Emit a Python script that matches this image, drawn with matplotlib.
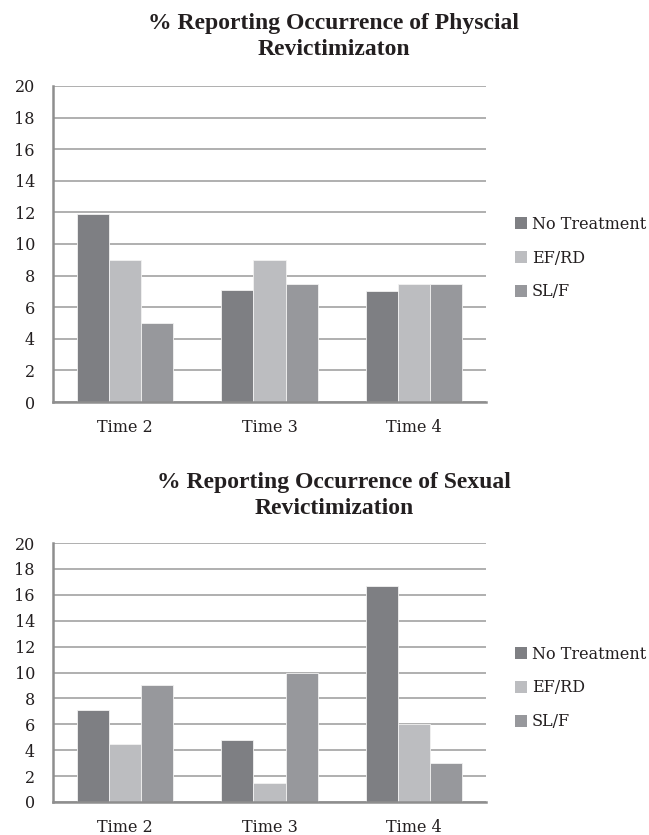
import matplotlib
matplotlib.use("Agg")
import matplotlib.pyplot as plt
import numpy as np

# Data
times = ["Time 2", "Time 3", "Time 4"]
groups = ["No Treatment", "EF/RD", "SL/F"]
physical_no_treatment = [11.9, 7.1, 7.0]
physical_ef_rd = [9.0, 9.0, 7.5]
physical_sl_f = [5.0, 7.5, 7.5]
sexual_no_treatment = [7.1, 4.8, 16.7]
sexual_ef_rd = [4.5, 1.5, 6.0]
sexual_sl_f = [9.0, 10.0, 3.0]
y_ticks = [0, 2, 4, 6, 8, 10, 12, 14, 16, 18, 20]

colors = ["#7e7f83", "#bcbdc0", "#97989c"]
grid_color = "#a9a9a9"
spine_color = "#8e8e8e"
text_color = "#231f20"
tick_font = "DejaVu Serif"
title_font = "Liberation Serif"

W, H = 649, 835
fig = plt.figure(figsize=(W / 100, H / 100), dpi=100)


def px_axes(left, top, right, bottom):
    return fig.add_axes([left / W, 1 - bottom / H, (right - left) / W, (bottom - top) / H])


def draw_panel(ax, series, legend_cy):
    x = np.arange(len(times))
    width = 0.222
    containers = []
    for i, (vals, name) in enumerate(zip(series, groups)):
        bc = ax.bar(x + (i - 1) * width, vals, width, color=colors[i], label=name,
                    edgecolor="#f2f2f2", linewidth=0.6, zorder=3)
        containers.append(bc)
    ax.set_xlim(-0.5, len(times) - 0.5)
    ax.set_ylim(0, 20)
    ax.set_yticks(y_ticks)
    ax.set_xticks(x)
    ax.set_xticklabels(times)
    ax.yaxis.grid(True, color=grid_color, linewidth=1.3, zorder=0)
    ax.set_axisbelow(True)
    for s in ["top", "right"]:
        ax.spines[s].set_visible(False)
    for s in ["left", "bottom"]:
        ax.spines[s].set_color(spine_color)
        ax.spines[s].set_linewidth(1.8)
        ax.spines[s].set_zorder(4)
    ax.tick_params(axis="y", length=0, pad=13, labelsize=11.5, labelcolor=text_color)
    ax.tick_params(axis="x", length=0, pad=12, labelsize=11.5, labelcolor=text_color)
    for lab in ax.get_xticklabels() + ax.get_yticklabels():
        lab.set_fontfamily(tick_font)
    leg = fig.legend(containers, groups, loc="center left",
                     bbox_to_anchor=(515 / W, 1 - legend_cy / H),
                     frameon=False, borderpad=0, borderaxespad=0,
                     handlelength=0.75, handleheight=0.75, handletextpad=0.3,
                     labelspacing=1.05,
                     prop={"family": tick_font, "size": 11.5})
    for t in leg.get_texts():
        t.set_color(text_color)
    for h in leg.legend_handles:
        h.set_edgecolor("none")


ax1 = px_axes(53, 86, 486, 402)
draw_panel(ax1, [physical_no_treatment, physical_ef_rd, physical_sl_f], 258)

ax2 = px_axes(53, 543, 486, 802)
draw_panel(ax2, [sexual_no_treatment, sexual_ef_rd, sexual_sl_f], 688)

title_kw = dict(ha="center", va="baseline", fontfamily=title_font,
                fontweight="bold", fontsize=17, color=text_color)
fig.text(334 / W, 1 - 29 / H, "% Reporting Occurrence of Physcial", **title_kw)
fig.text(334 / W, 1 - 55 / H, "Revictimizaton", **title_kw)
fig.text(334 / W, 1 - 488 / H, "% Reporting Occurrence of Sexual", **title_kw)
fig.text(334 / W, 1 - 514 / H, "Revictimization", **title_kw)

fig.savefig("out.png", dpi=100, facecolor="white")
